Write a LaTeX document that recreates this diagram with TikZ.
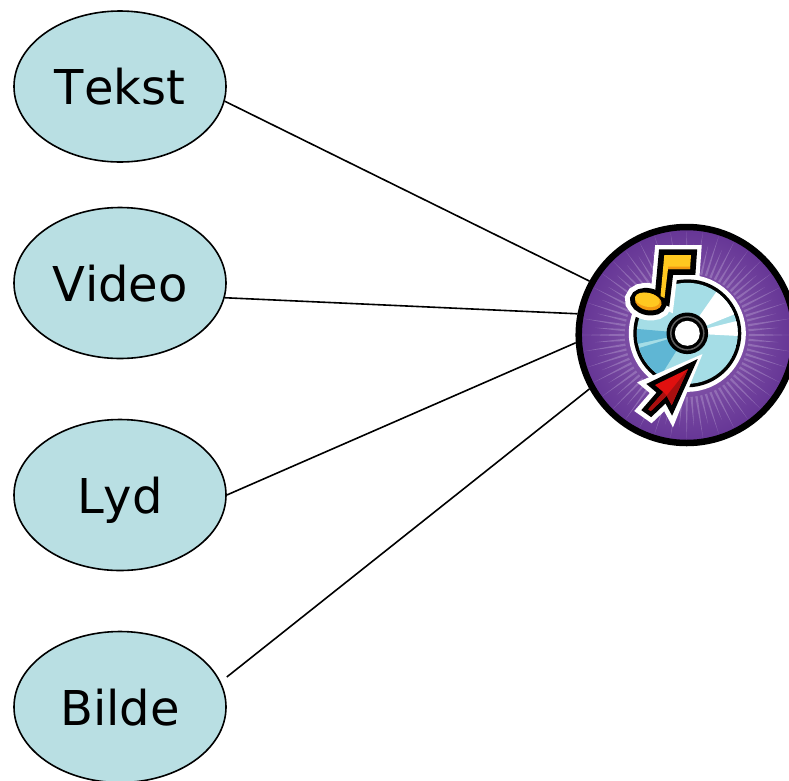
\documentclass[tikz,border=0pt]{standalone}
\usepackage{fontspec}
\setmainfont[Kerning=Off]{DejaVu Sans}
\usetikzlibrary{shapes.geometric}
\definecolor{bubble}{HTML}{B9DFE3}
\definecolor{discout}{HTML}{653595}
\definecolor{discin}{HTML}{9468B4}
\definecolor{rayc}{HTML}{A88BC6}
\definecolor{cdbase}{HTML}{A5DDE6}
\definecolor{cddark}{HTML}{5FB6D4}
\definecolor{noteyellow}{HTML}{FFC820}
\definecolor{noteorange}{HTML}{F39A12}
\definecolor{arrowred}{HTML}{E0100F}
\definecolor{arrowdark}{HTML}{A80F0F}
\tikzset{
  media/.style={ellipse,draw=black,line width=1.6pt,fill=bubble,minimum width=212pt,minimum height=151pt,inner sep=0pt,
    font=\fontsize{48}{56}\selectfont,text height=36pt,text depth=0pt},
  link/.style={draw=black,line width=1.6pt},
  disc/.style={circle,draw=black,line width=6.5pt,minimum size=216pt,inner sep=0pt,inner color=discin,outer color=discout},
}
\newcommand{\cdwedge}[3]{\fill[#1] (687.3,333.3) -- ({687.3+80*cos(#2)},{333.3-80*sin(#2)}) -- ({687.3+80*cos(#3)},{333.3-80*sin(#3)}) -- cycle;}
\begin{document}
\begin{tikzpicture}[x=1pt,y=-1pt]
\clip (0,0) rectangle (789,780);
\fill[white] (0,0) rectangle (789,780);
\node[media] (tekst) at (120,86.5) {Tekst};
\node[media] (video) at (120,283) {Video};
\node[media] (lyd) at (120,495) {Lyd};
\node[media] (bilde) at (120,707) {Bilde};
\node[disc] (cd) at (686.7,335) {};
\draw[link] (tekst.-8.6) -- (cd.151.8);
\draw[link] (video.-8.1) -- (cd.169.4);
\draw[link] (lyd.0) -- (cd.184.6);
\draw[link] ([yshift=30pt]bilde.east) -- (cd.209.6);
% rays
\foreach \i in {0,...,79}{
  \pgfmathsetmacro{\a}{\i*4.5}
  \pgfmathsetmacro{\rr}{mod(\i,2)==0 ? 104 : 92}
  \fill[rayc,opacity=.55] ({686.7+\rr*cos(\a)},{335-\rr*sin(\a)})
    -- ({686.7+62*cos(\a+1.1)},{335-62*sin(\a+1.1)})
    -- ({686.7+62*cos(\a-1.1)},{335-62*sin(\a-1.1)}) -- cycle;
}
% compact disc
\fill[white] (687.3,333.3) circle (58.5);
\fill[black] (687.3,333.3) circle (54);
\begin{scope}
\clip (687.3,333.3) circle (50.5);
\fill[cdbase] (687.3,333.3) circle (51);
\cdwedge{cddark}{175}{192}
\cdwedge{cddark}{197}{238}
\cdwedge{white}{22}{55}
\cdwedge{white}{-3}{14}
\end{scope}
\fill[black] (687.3,333.3) circle (20.8);
\draw[gray!75!black,line width=1.5pt] (687.3,333.3) circle (16.5);
\fill[white] (687.3,333.3) circle (12.5);
% music note
\def\notepath{(664.3,255) -- (691,255) -- (690,269) -- (668,269) -- (664.5,298) -- (660.5,296) -- cycle}
\def\notehead{[rotate around={-12:(648.3,301.7)}] (648.3,301.7) ellipse (13.5 and 8.5)}
\draw[white,line width=20pt,line join=miter,fill=white] \notepath;
\draw[white,line width=20pt,fill=white] \notehead;
\draw[black,line width=11.5pt,line join=miter,fill=black] \notepath;
\draw[black,line width=10pt,fill=black] \notehead;
\fill[noteyellow] \notepath;
\fill[noteorange] \notehead;
\fill[noteyellow,rotate around={-12:(648.3,301.7)}] (647,300) ellipse (12.6 and 7);
\fill[noteorange] (668,266.5) -- (690.2,266.5) -- (690,269) -- (668,269) -- cycle;
% pointer
\def\arrowpath{(688,369) -- (655,385) -- (663.3,392) -- (648.3,409.3) -- (650.7,411) -- (666.7,395.7) -- (671.7,405) -- cycle}
\draw[white,line width=19pt,line join=miter,miter limit=3] (685,372) -- (655,385) -- (663.3,392) -- (648.3,409.3) -- (650.7,411) -- (666.7,395.7) -- (671.7,405) -- cycle;
\draw[black,line width=9.5pt,line join=miter,miter limit=6,fill=black] \arrowpath;
\fill[arrowred] \arrowpath;
\fill[arrowdark] (688,369) -- (671.7,405) -- (666.7,395.7) -- cycle;
\fill[arrowdark] (663.3,392) -- (648.3,409.3) -- (650.7,411) -- (666.7,395.7) -- cycle;
\end{tikzpicture}
\end{document}
